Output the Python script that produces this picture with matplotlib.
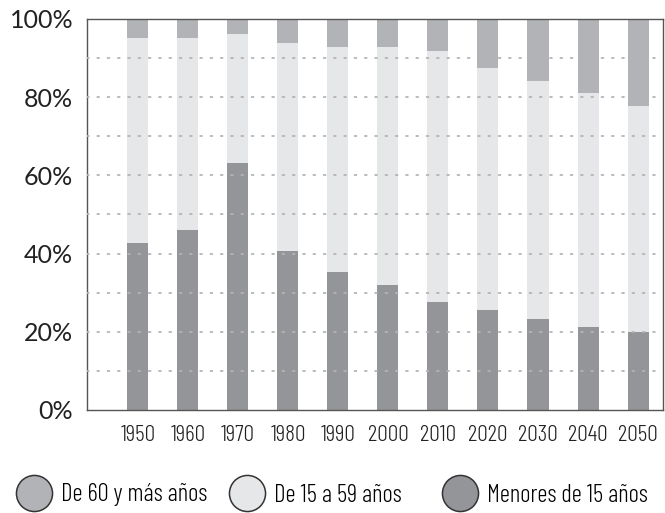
import numpy as np
import matplotlib.pyplot as plt
from matplotlib.lines import Line2D

# datos (porcentaje de la poblacion por grupo de edad)
years = ['1950', '1960', '1970', '1980', '1990', '2000', '2010', '2020', '2030', '2040', '2050']
menores_15 = [42.8, 46.0, 63.2, 40.7, 35.4, 32.0, 27.6, 25.6, 23.3, 21.2, 19.9]
de_15_59 = [52.4, 49.2, 33.0, 53.2, 57.5, 60.8, 64.2, 61.9, 60.8, 59.9, 57.8]
de_60_mas = [4.8, 4.8, 3.8, 6.1, 7.1, 7.2, 8.2, 12.5, 15.9, 18.9, 22.3]

c_dark = '#939598'
c_light = '#e6e7e8'
c_mid = '#b1b3b6'

plt.rcParams['font.family'] = ['Lato', 'DejaVu Sans']
cond = ['Barlow Condensed', 'DejaVu Sans']

fig = plt.figure(figsize=(6.65, 5.13), dpi=100)
ax = fig.add_axes([0.1308, 0.2008, 0.8662, 0.7622])

x = np.arange(len(years))
w = 0.42
b1 = np.array(menores_15)
b2 = b1 + np.array(de_15_59)
ax.bar(x, menores_15, w, color=c_dark, zorder=2)
ax.bar(x, de_15_59, w, bottom=b1, color=c_light, zorder=2)
ax.bar(x, de_60_mas, w, bottom=b2, color=c_mid, zorder=2)

for yv in range(10, 100, 10):
    ax.axhline(yv, color='#b4b4b4', lw=1.3, ls=(0, (1, 4.7)),
               dash_capstyle='round', zorder=3)

ax.set_xlim(-1.02, 10.5)
ax.set_ylim(0, 100)
ax.set_yticks([0, 20, 40, 60, 80, 100])
ax.set_yticklabels(['0%', '20%', '40%', '60%', '80%', '100%'], fontsize=18,
                   color='#222222')
ax.set_xticks(x)
ax.set_xticklabels(years, fontsize=17, color='#222222', family=cond, fontweight=300)
ax.tick_params(length=0)
ax.tick_params(axis='y', pad=10)
ax.tick_params(axis='x', pad=11)
for s in ax.spines.values():
    s.set_color('#555555')
    s.set_linewidth(1.0)

labels = ['De 60 y más años', 'De 15 a 59 años', 'Menores de 15 años']
colors = [c_mid, c_light, c_dark]
lx = [16, 229, 442]
for lab, c, px in zip(labels, colors, lx):
    h = Line2D([], [], ls='none', marker='o', markersize=26,
               markerfacecolor=c, markeredgecolor='#333333', markeredgewidth=1.1)
    fig.legend([h], [lab], loc='center left', bbox_to_anchor=(px / 665, 1 - 495 / 513),
               frameon=False, borderaxespad=0, borderpad=0, handlelength=1.4,
               handletextpad=0.4,
               prop=dict(size=18, family=cond, weight=300))

fig.savefig('out.png', dpi=100)
